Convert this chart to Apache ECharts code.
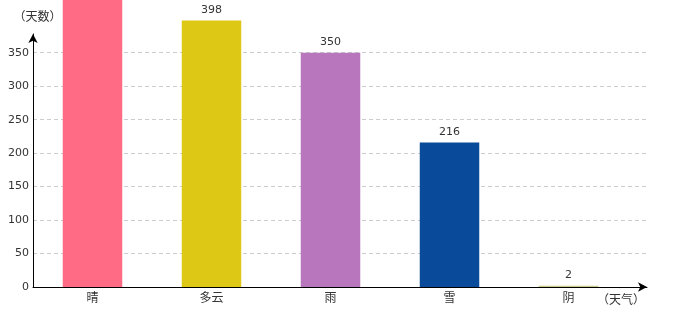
<!DOCTYPE html>
<html>
<head>
<meta charset="utf-8">
<script src="https://cdn.jsdelivr.net/npm/echarts@6/dist/echarts.min.js"></script>
<style>html,body{margin:0;padding:0;background:#fff;}#c{width:680px;height:320px;}</style>
</head>
<body>
<div id="c"></div>
<script>
const categories = ['晴', '多云', '雨', '雪', '阴'];
const values = [450, 398, 350, 216, 2];
const colors = ['#FF6B84', '#DDC816', '#B876BD', '#0A4A9A', '#CCCC88'];
const yMax = 378;
const yInterval = 50;

const chart = echarts.init(document.getElementById('c'), null, {renderer: 'canvas'});
const cjk = 'Noto Sans CJK JP';
const num = '"DejaVu Sans", sans-serif';
chart.setOption({
  animation: false,
  backgroundColor: '#fff',
  grid: [
    {left: 33, right: 52, top: 34, bottom: 33},
    {left: 33, right: 33, top: 34, bottom: 33}
  ],
  xAxis: [
    {
      type: 'category', gridIndex: 0, data: categories,
      axisLine: {show: false}, axisTick: {show: false},
      axisLabel: {color: '#333', fontFamily: cjk, fontSize: 12, margin: 4},
      splitLine: {show: false}
    },
    {
      type: 'value', gridIndex: 1, min: 0, max: 1,
      axisLine: {show: true, lineStyle: {color: '#000', width: 1}, symbol: ['none', 'arrow'], symbolSize: [7, 9]},
      axisTick: {show: false}, axisLabel: {show: false}, splitLine: {show: false},
      name: '（天气）', nameLocation: 'end', nameGap: -2,
      nameTextStyle: {color: '#333', fontFamily: cjk, fontSize: 12, align: 'right', verticalAlign: 'top', padding: [6, 0, 0, 0]}
    }
  ],
  yAxis: [
    {
      type: 'value', gridIndex: 0, min: 0, max: yMax, interval: yInterval, show: false
    },
    {
      type: 'value', gridIndex: 1, min: 0, max: yMax, interval: yInterval,
      axisLine: {show: true, lineStyle: {color: '#000', width: 1}, symbol: ['none', 'arrow'], symbolSize: [7, 9]},
      axisTick: {show: false},
      axisLabel: {color: '#333', fontFamily: num, fontSize: 11, margin: 4, showMaxLabel: false},
      splitLine: {show: true, showMaxLine: false, lineStyle: {color: '#ccc', type: [4, 3]}},
      name: '（天数）', nameLocation: 'end', nameGap: 12,
      nameTextStyle: {color: '#333', fontFamily: cjk, fontSize: 12, align: 'center', verticalAlign: 'bottom', padding: [0, 0, 0, 9]}
    }
  ],
  series: [{
    type: 'bar', xAxisIndex: 0, yAxisIndex: 0,
    data: values.map((v, i) => ({value: v, itemStyle: {color: colors[i]}})),
    barWidth: '50%', clip: false,
    label: {show: true, position: 'top', distance: 5, color: '#333', fontFamily: num, fontSize: 11}
  }]
});
</script>
</body>
</html>
